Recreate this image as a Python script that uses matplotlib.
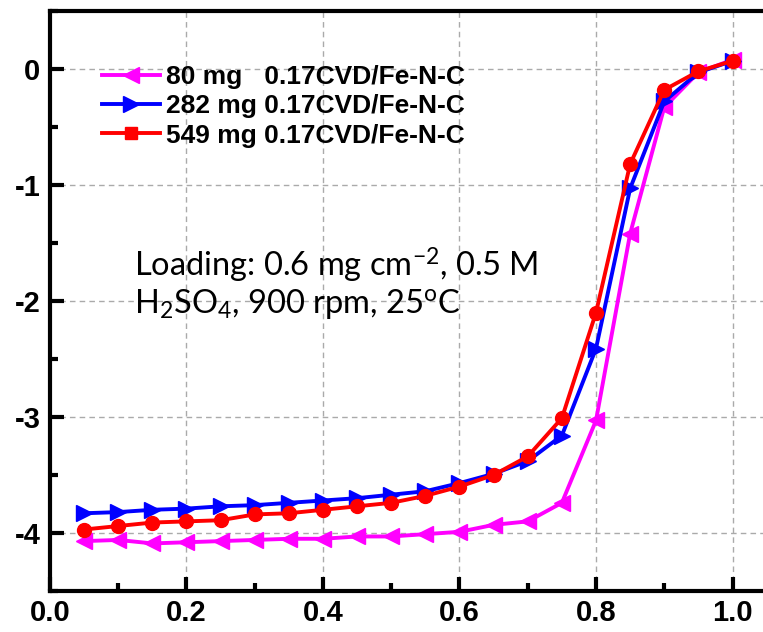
import numpy as np
import matplotlib
matplotlib.use("Agg")
import matplotlib.pyplot as plt
from matplotlib.lines import Line2D
from matplotlib.ticker import MultipleLocator, FormatStrFormatter

# potential (x) and current density for three loadings
potential = [0.05, 0.10, 0.15, 0.20, 0.25, 0.30, 0.35, 0.40, 0.45, 0.50,
             0.55, 0.60, 0.65, 0.70, 0.75, 0.80, 0.85, 0.90, 0.95, 1.00]
cur_80mg = [-4.07, -4.06, -4.09, -4.08, -4.07, -4.06, -4.05, -4.05, -4.03, -4.03,
            -4.01, -3.99, -3.93, -3.90, -3.74, -3.03, -1.42, -0.33, -0.03, 0.08]
cur_282mg = [-3.83, -3.82, -3.80, -3.79, -3.77, -3.76, -3.74, -3.72, -3.70, -3.67,
             -3.64, -3.57, -3.49, -3.38, -3.16, -2.41, -1.03, -0.28, -0.03, 0.07]
cur_549mg = [-3.97, -3.94, -3.91, -3.90, -3.89, -3.84, -3.83, -3.80, -3.77, -3.74,
             -3.68, -3.60, -3.50, -3.34, -3.01, -2.10, -0.82, -0.18, -0.02, 0.07]
labels = ["80 mg   0.17CVD/Fe-N-C", "282 mg 0.17CVD/Fe-N-C", "549 mg 0.17CVD/Fe-N-C"]

plt.rcParams['font.family'] = ['Liberation Sans', 'DejaVu Sans']
plt.rcParams['axes.unicode_minus'] = False

fig = plt.figure(figsize=(7.63, 6.32), dpi=100)
ax = fig.add_axes([0.0655, 0.0649, 0.984, 0.9177])

ax.plot(potential, cur_80mg, color='#ff00ff', lw=2.8, marker='<', ms=11, zorder=3)
ax.plot(potential, cur_282mg, color='#0000ff', lw=2.8, marker='>', ms=11, zorder=4)
ax.plot(potential, cur_549mg, color='#ff0000', lw=2.8, marker='o', ms=10, zorder=5)

ax.set_xlim(0, 1.1)
ax.set_ylim(-4.5, 0.5)
ax.xaxis.set_major_locator(MultipleLocator(0.2))
ax.xaxis.set_minor_locator(MultipleLocator(0.1))
ax.yaxis.set_major_locator(MultipleLocator(1))
ax.yaxis.set_minor_locator(MultipleLocator(0.5))
ax.xaxis.set_major_formatter(FormatStrFormatter('%.1f'))
ax.grid(True, which='major', ls=(0, (4, 3)), color='#aaaaaa', lw=1.0)

for s in ax.spines.values():
    s.set_linewidth(3)
ax.tick_params(which='major', direction='in', length=10, width=3, labelsize=21, pad=7)
ax.tick_params(axis='x', which='major', pad=6)
ax.tick_params(which='minor', direction='in', length=6, width=3)
for lab in ax.get_xticklabels() + ax.get_yticklabels():
    lab.set_fontweight('bold')

handles = [
    Line2D([], [], color='#ff00ff', lw=2.8, marker='<', ms=11),
    Line2D([], [], color='#0000ff', lw=2.8, marker='>', ms=11),
    Line2D([], [], color='#ff0000', lw=2.8, marker='s', ms=8),
]
ax.legend(handles, labels, loc='upper left', bbox_to_anchor=(0.055, 0.925),
          frameon=False, prop={'weight': 'bold', 'size': 19},
          handlelength=2.2, handletextpad=0.25, labelspacing=0.2,
          borderaxespad=0)

ax.text(0.112, 0.53, "Loading: 0.6 mg cm$\\mathregular{^{-2}}$, 0.5 M\n"
        "H$\\mathregular{_2}$SO$\\mathregular{_4}$, 900 rpm, 25$\\mathregular{^o}$C",
        transform=ax.transAxes, fontsize=23.5, family='Lato',
        va='center', ha='left', linespacing=1.1)

fig.savefig("out.png", dpi=100)
